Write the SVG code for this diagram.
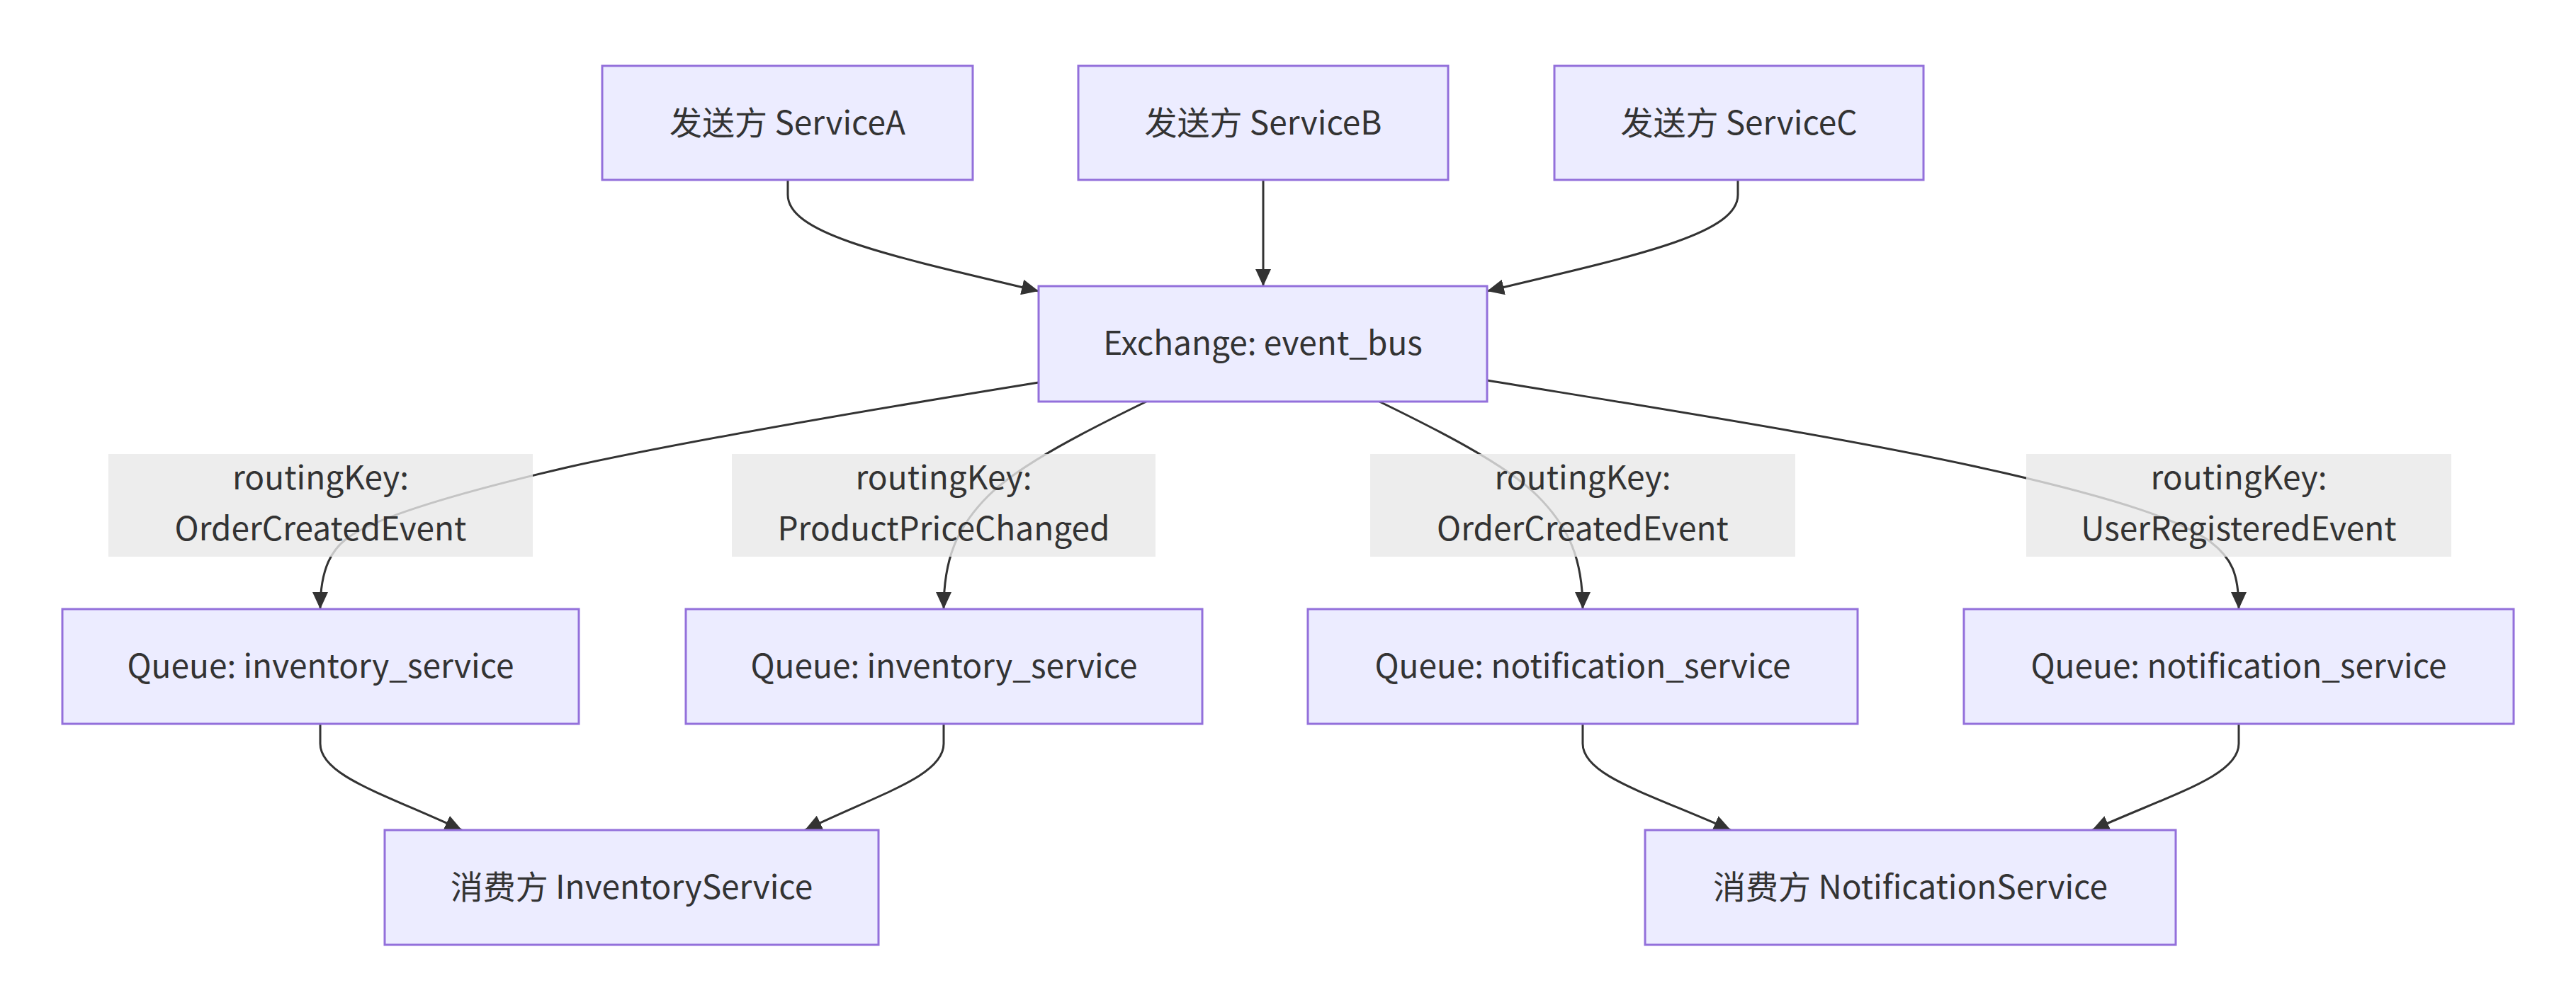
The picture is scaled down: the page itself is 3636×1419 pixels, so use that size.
<svg xmlns="http://www.w3.org/2000/svg" width="3636" height="1419" viewBox="0 0 3636 1419">
<style>
.node rect{fill:#ECECFF;stroke:#9370DB;stroke-width:3}
.lbl rect{fill:#e8e8e8;fill-opacity:0.8}
text{font-family:"Noto Sans CJK SC","Noto Sans",sans-serif;font-size:46px;fill:#333333;text-anchor:middle;dominant-baseline:central}
.edge{fill:none;stroke:#333333;stroke-width:3}
</style>
<defs>
<marker id="arr" viewBox="0 0 10 10" refX="10" refY="5" markerUnits="userSpaceOnUse" markerWidth="24" markerHeight="22" preserveAspectRatio="none" orient="auto">
<path d="M0,0 L10,5 L0,10 z" fill="#333333"/>
</marker>
</defs>
<rect width="3636" height="1419" fill="#ffffff"/>
<g id="connectors">
<path class="edge" marker-end="url(#arr)" d="M1112,254 L1112,275 C1112,330 1250,360 1466,411"/>
<path class="edge" marker-end="url(#arr)" d="M1783,254 L1783,404"/>
<path class="edge" marker-end="url(#arr)" d="M2453,254 L2453,275 C2453,330 2315,360 2099,411"/>
<path class="edge" marker-end="url(#arr)" d="M1466,540 C1250,575 980,620 800,660 C650,695 530,730 490,760 C470,775 452,800 452,860"/>
<path class="edge" marker-end="url(#arr)" d="M1618,567 C1540,605 1440,655 1395,700 C1350,745 1332,790 1332,860"/>
<path class="edge" marker-end="url(#arr)" d="M1947,567 C2025,605 2125,655 2170,700 C2215,745 2234,790 2234,860"/>
<path class="edge" marker-end="url(#arr)" d="M2099,537 C2330,575 2620,620 2830,668 C2990,705 3080,735 3120,765 C3150,788 3160,810 3160,860"/>
<path class="edge" marker-end="url(#arr)" d="M452,1022 L452,1050 C452,1095 540,1120 652,1172"/>
<path class="edge" marker-end="url(#arr)" d="M1332,1022 L1332,1050 C1332,1095 1244,1120 1136,1172"/>
<path class="edge" marker-end="url(#arr)" d="M2234,1022 L2234,1050 C2234,1095 2326,1120 2443,1172"/>
<path class="edge" marker-end="url(#arr)" d="M3160,1022 L3160,1050 C3160,1095 3069,1120 2953,1172"/>
</g>
<g id="label-1" class="lbl"><rect x="153" y="641" width="599" height="145"/><text x="452.5" y="671">routingKey:</text><text x="452.5" y="743">OrderCreatedEvent</text></g>
<g id="label-2" class="lbl"><rect x="1033" y="641" width="598" height="145"/><text x="1332" y="671">routingKey:</text><text x="1332" y="743">ProductPriceChanged</text></g>
<g id="label-3" class="lbl"><rect x="1934" y="641" width="600" height="145"/><text x="2234" y="671">routingKey:</text><text x="2234" y="743">OrderCreatedEvent</text></g>
<g id="label-4" class="lbl"><rect x="2860" y="641" width="600" height="145"/><text x="3160" y="671">routingKey:</text><text x="3160" y="743">UserRegisteredEvent</text></g>
<g id="serviceA" class="node"><rect x="850" y="93" width="523" height="161"/><text x="1111.5" y="170">发送方 ServiceA</text></g>
<g id="serviceB" class="node"><rect x="1522" y="93" width="522" height="161"/><text x="1783" y="170">发送方 ServiceB</text></g>
<g id="serviceC" class="node"><rect x="2194" y="93" width="521" height="161"/><text x="2454.5" y="170">发送方 ServiceC</text></g>
<g id="exchange" class="node"><rect x="1466" y="404" width="633" height="163"/><text x="1782.5" y="481">Exchange: event_bus</text></g>
<g id="queue1" class="node"><rect x="88" y="860" width="729" height="162"/><text x="452.5" y="937">Queue: inventory_service</text></g>
<g id="queue2" class="node"><rect x="968" y="860" width="729" height="162"/><text x="1332.5" y="937">Queue: inventory_service</text></g>
<g id="queue3" class="node"><rect x="1846" y="860" width="776" height="162"/><text x="2234" y="937">Queue: notification_service</text></g>
<g id="queue4" class="node"><rect x="2772" y="860" width="776" height="162"/><text x="3160" y="937">Queue: notification_service</text></g>
<g id="inventory" class="node"><rect x="543" y="1172" width="697" height="162"/><text x="891.5" y="1249">消费方 InventoryService</text></g>
<g id="notification" class="node"><rect x="2322" y="1172" width="749" height="162"/><text x="2696.5" y="1249">消费方 NotificationService</text></g>
</svg>
